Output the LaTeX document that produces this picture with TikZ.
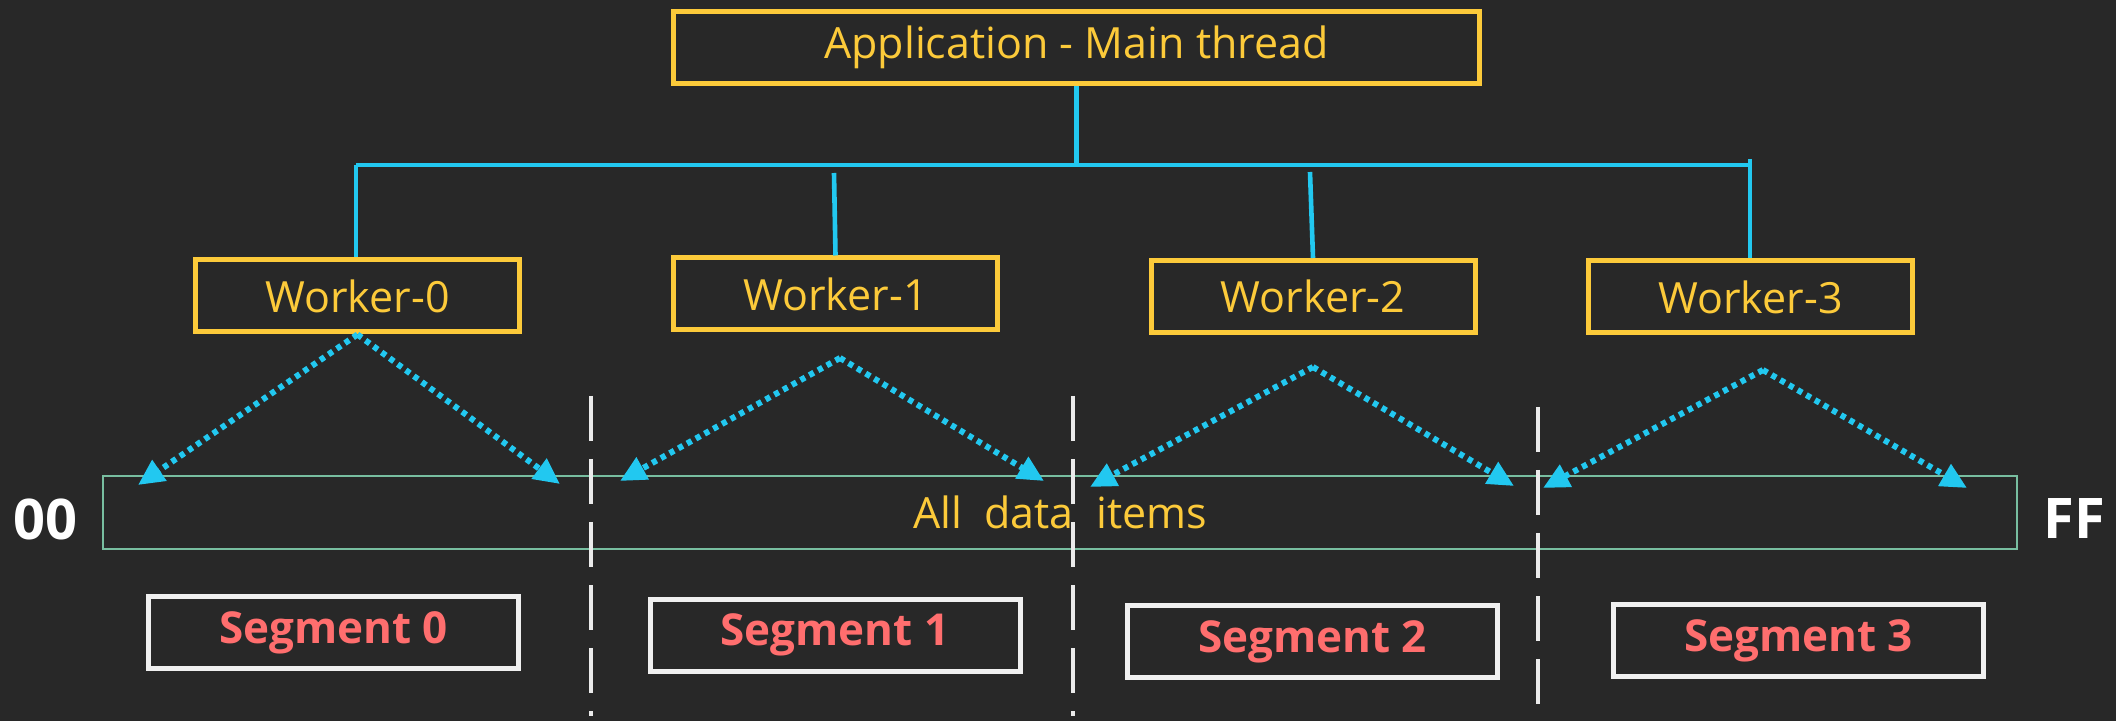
\documentclass[tikz,border=0pt]{standalone}
\usepackage{fontspec}
\setmainfont{Open Sans}
\usepackage{xcolor}
\usepackage{tikz}
\usetikzlibrary{arrows.meta, positioning, calc}

\definecolor{bgdark}{RGB}{40,40,40}
\definecolor{thryellow}{RGB}{252,202,58}
\definecolor{linkcyan}{RGB}{34,200,240}
\definecolor{segred}{RGB}{255,110,110}
\definecolor{bargreen}{RGB}{120,190,160}

\tikzset{
	thrbox/.style={draw=thryellow, line width=2.5pt, text=thryellow, minimum height=36pt,
		inner sep=0pt, font=\fontsize{21.5}{26}\selectfont},
	segbox/.style={draw=white!94!black, line width=2.5pt, text=segred, minimum width=185pt,
		minimum height=36pt, inner sep=0pt, font=\fontsize{22}{26}\selectfont\bfseries},
	link/.style={linkcyan, line width=2.3pt},
	split/.style={linkcyan, line width=3pt, dash pattern=on 2.6pt off 2.4pt,
		-{Triangle[length=13pt,width=12pt]}},
	cut/.style={white!92!black, line width=1.8pt, dash pattern=on 22.5pt off 9pt},
	endlabel/.style={text=white, font=\fontsize{28}{32}\selectfont\bfseries}
}

\begin{document}
\begin{tikzpicture}[x=0.5pt, y=-0.5pt]
		% Background
		\fill[bgdark] (0,0) rectangle (2116,721);
		\useasboundingbox (0,0) rectangle (2116,721);
		
		% Threads
		\node[thrbox, minimum width=403pt] (app) at (1076.5,47.5) {Application - Main thread};
		\node[thrbox, minimum width=162pt] (w0) at (357.5,296) {Worker-0};
		\node[thrbox, minimum width=162pt] (w1) at (835.5,294) {Worker-1};
		\node[thrbox, minimum width=162pt] (w2) at (1313,296.5) {Worker-2};
		\node[thrbox, minimum width=162pt] (w3) at (1750.5,297) {Worker-3};
		
		% Tree from main thread to the workers
		\coordinate (barL) at (356,165);
		\coordinate (barR) at (1750,165);
		\draw[link] (app.south) -- (app.south |- barL);
		\draw[link] (barL) -- (barR);
		\draw[link] (barL) -- (barL |- w0.north);
		\draw[link] (834,173) -- (w1.north);
		\draw[link] (1310,172) -- (w2.north);
		\draw[link] (barR |- 0,159) -- (barR |- w3.north);
		
		% Data range
		\node[draw=bargreen, line width=1pt, minimum width=957pt, minimum height=36.5pt,
			inner sep=0pt, text=thryellow, font=\fontsize{21.5}{26}\selectfont] (data) at (1060,512.5)
			{All\ \ data\ \ items};
		\node[endlabel] (lo) at (45,519) {00};
		\node[endlabel] (hi) at (2074,519) {FF};
		
		% Segment borders
		\draw[cut] (591,396) -- (591,716);
		\draw[cut] (1073,396) -- (1073,716);
		\draw[cut] (1538,407) -- (1538,708);
		
		% Segments
		\node[segbox] (s0) at (333.5,632.5) {Segment 0};
		\node[segbox] (s1) at (835,635) {Segment 1};
		\node[segbox] (s2) at (1312.5,641.5) {Segment 2};
		\node[segbox] (s3) at (1798.5,640.5) {Segment 3};
		
		% Split points
		\coordinate (p0) at (w0.south);
		\coordinate (p1) at (840,358);
		\coordinate (p2) at (1313,367);
		\coordinate (p3) at (1763,370);
		
		% Ends of each worker's range
		\coordinate (e0l) at (138,485);
		\coordinate (e0r) at (560,484);
		\coordinate (e1l) at (620,481);
		\coordinate (e1r) at (1044,481);
		\coordinate (e2l) at (1090,487);
		\coordinate (e2r) at (1514,486);
		\coordinate (e3l) at (1543,488);
		\coordinate (e3r) at (1967,488);
		
		% Dotted arrows
		\foreach \i in {0,1,2,3} {
			\draw[split] (p\i) -- (e\i l);
			\draw[split] (p\i) -- (e\i r);
		}
	\end{tikzpicture}
\end{document}
